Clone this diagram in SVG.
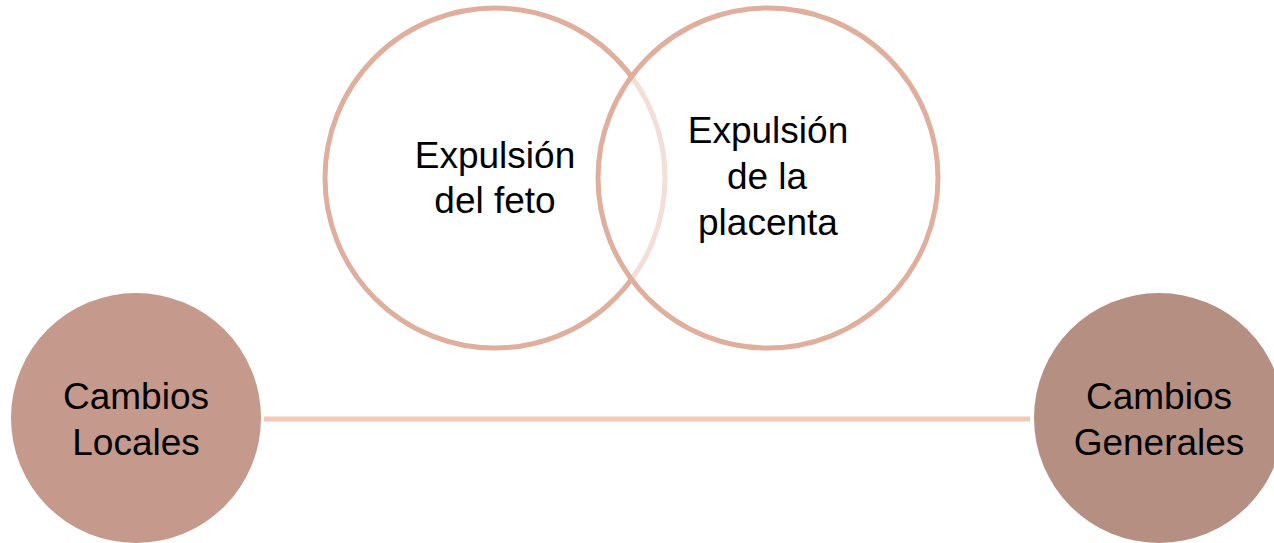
<svg xmlns="http://www.w3.org/2000/svg" width="1274" height="543" viewBox="0 0 1274 543">
<style>
.ring{fill:#ffffff;stroke:#e0ae9d;stroke-width:5}
.lbl{font-family:"Liberation Sans",Arial,sans-serif;font-size:37px;fill:#000;text-anchor:middle}
.conn{stroke:#f5c7b6;stroke-width:5;fill:none}
</style>
<rect width="1274" height="543" fill="#ffffff"/>
<g id="connectors">
<line class="conn" x1="264" y1="419" x2="1030" y2="419"/>
</g>
<g id="feto">
<circle class="ring" cx="495" cy="178" r="170"/>
<text class="lbl" x="495" y="168">Expulsión</text>
<text class="lbl" x="495" y="213">del feto</text>
</g>
<g id="placenta">
<circle cx="768" cy="178" r="170" fill="#ffffff" fill-opacity="0.6" stroke="#e0ae9d" stroke-width="5"/>
<text class="lbl" x="768" y="143">Expulsión</text>
<text class="lbl" x="767" y="189">de la</text>
<text class="lbl" x="768" y="235">placenta</text>
</g>
<g id="locales">
<circle cx="136" cy="418" r="125" fill="#c59a8c"/>
<text class="lbl" x="136" y="409">Cambios</text>
<text class="lbl" x="136" y="455">Locales</text>
</g>
<g id="generales">
<circle cx="1159" cy="418" r="125" fill="#b68f83"/>
<text class="lbl" x="1159" y="409">Cambios</text>
<text class="lbl" x="1159" y="455">Generales</text>
</g>
</svg>
